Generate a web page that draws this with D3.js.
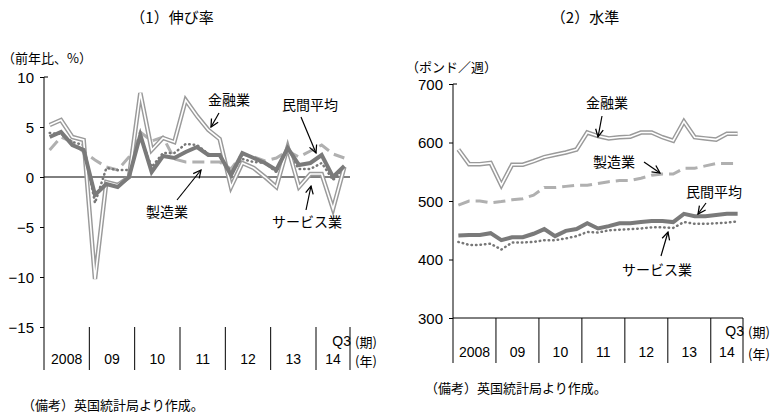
<!DOCTYPE html>
<html>
<head>
<meta charset="utf-8">
<script src="https://cdn.jsdelivr.net/npm/d3@7"></script>
<style>
  body { margin: 0; background: #fff; }
  svg { display: block; }
  text { font-family: "Noto Sans CJK JP", "Liberation Sans", sans-serif; fill: #000; }
  .num { font-family: "Liberation Sans", Arial, sans-serif; }
</style>
</head>
<body>
<div id="chart"></div>
<script>
// quarters 2008Q1 .. 2014Q3
const quarters = d3.range(27).map(i => (2008 + Math.floor(i / 4)) + 'Q' + (i % 4 + 1));
const yearLabels = ['2008', '09', '10', '11', '12', '13', '14'];

// (1) growth rate, % y/y
const growthFinance = [5.2, 5.7, 4.0, 3.7, -10.2, -0.5, -0.8, 0.0, 8.4, 2.7, 3.9, 3.5, 7.7, 6.1, 4.7, 3.8,
  -1.0, 1.4, 0.9, 0.0, -1.0, 3.0, -1.0, 0.3, 0.3, -3.2, 1.0];
const growthAverage = [4.0, 4.5, 3.2, 2.7, -1.8, -0.7, -1.0, 0.0, 4.2, 0.5, 2.1, 1.9, 2.5, 3.0, 2.2, 2.2,
  0.2, 2.4, 1.9, 1.4, 0.7, 2.9, 1.2, 1.4, 2.2, 0.0, 1.1];
const growthManufacturing = [2.7, 4.0, 3.5, 2.5, 1.7, 1.0, 0.7, 2.0, 4.5, 3.6, 4.0, 1.8, 1.5, 1.5, 1.5, 1.5,
  0.8, 2.3, 2.0, 1.6, 1.9, 2.6, 2.0, 2.6, 3.2, 2.3, 1.9];
const growthServices = [4.4, 4.3, 3.5, 3.2, -2.6, 0.9, 0.7, 0.7, 4.0, 1.0, 2.4, 2.4, 3.3, 3.2, 2.3, 2.2,
  0.5, 1.8, 1.5, 1.4, 0.5, 2.5, 0.8, 0.8, 1.4, -0.3, 0.8];

// (2) level, pounds per week
const levelFinance = [588, 563, 563, 565, 527, 562, 562, 568, 575, 579, 583, 588, 617, 611, 607, 609,
  610, 617, 617, 609, 603, 636, 609, 607, 605, 615, 615];
const levelManufacturing = [493, 500, 500, 497, 499, 502, 504, 510, 523, 523, 525, 527, 527, 530, 533, 535,
  535, 539, 544, 546, 546, 556, 556, 560, 564, 564, 564];
const levelAverage = [441, 442, 442, 445, 433, 438, 438, 444, 452, 440, 449, 452, 462, 453, 457, 462,
  462, 464, 466, 466, 464, 478, 474, 474, 476, 478, 478];
const levelServices = [430, 425, 425, 427, 417, 429, 429, 430, 433, 433, 436, 440, 447, 446, 450, 451,
  452, 453, 455, 455, 454, 464, 461, 461, 462, 463, 465];

const growthTicks = [10, 5, 0, -5, -10, -15];
const levelTicks = [700, 600, 500, 400, 300];

const W = 783, H = 417;
const svg = d3.select('#chart').append('svg').attr('width', W).attr('height', H);

function drawPanel(cfg) {
  const g = svg.append('g');
  const band = d3.scaleBand().domain(quarters).range([cfg.x0, cfg.x1]);
  const x = q => band(q) + band.bandwidth() / 2;
  const y = d3.scaleLinear().domain(cfg.domain).range([cfg.yBottom, cfg.yTop]);

  // title
  g.append('text').attr('x', cfg.titleX).attr('y', 23).attr('font-size', 15)
    .attr('text-anchor', 'middle').text(cfg.title);
  g.append('text').attr('x', cfg.unitX).attr('y', cfg.unitY).attr('font-size', 13).text(cfg.unit);

  // y axis
  const axis = d3.axisLeft(y).tickValues(cfg.ticks).tickSize(4).tickSizeOuter(0)
    .tickFormat(d => d < 0 ? '\u2212' + Math.abs(d) : d);
  const ag = g.append('g').attr('transform', `translate(${cfg.x0},0)`).call(axis);
  ag.select('.domain').remove();
  ag.selectAll('line').attr('stroke', '#000');
  ag.selectAll('text').attr('class', 'num').attr('font-size', 15).attr('x', -10).attr('dy', '0.35em');
  g.append('line').attr('x1', cfg.x0).attr('x2', cfg.x0)
    .attr('y1', cfg.yTop).attr('y2', cfg.catBottom).attr('stroke', '#000');
  g.append('line').attr('x1', cfg.x0).attr('x2', cfg.x0 + 4)
    .attr('y1', cfg.yTop).attr('y2', cfg.yTop).attr('stroke', '#000');

  // horizontal base line
  g.append('line').attr('x1', cfg.x0).attr('x2', cfg.x1)
    .attr('y1', y(cfg.baseValue)).attr('y2', y(cfg.baseValue)).attr('stroke', '#000');

  // category separators and year labels
  const years = d3.range(7).map(i => quarters[i * 4]);
  years.slice(1).forEach(q => {
    g.append('line').attr('x1', band(q)).attr('x2', band(q))
      .attr('y1', cfg.yBottom).attr('y2', cfg.catBottom).attr('stroke', '#000');
  });
  g.append('line').attr('x1', cfg.x1).attr('x2', cfg.x1)
    .attr('y1', cfg.yBottom).attr('y2', cfg.catBottom).attr('stroke', '#000');
  years.forEach((q, i) => {
    const a = band(q);
    const b = i < 6 ? band(years[i + 1]) : cfg.x1;
    g.append('text').attr('class', 'num').attr('x', (a + b) / 2).attr('y', cfg.catBottom - 6)
      .attr('font-size', 14).attr('text-anchor', 'middle').text(yearLabels[i]);
  });
  g.append('text').attr('class', 'num').attr('x', cfg.x1 + 1).attr('y', cfg.q3Y)
    .attr('font-size', 14).attr('text-anchor', 'end').text('Q3');
  g.append('text').attr('x', cfg.x1 + 5).attr('y', cfg.q3Y + 1).attr('font-size', 13).text('(期)');
  g.append('text').attr('x', cfg.x1 + 5).attr('y', cfg.catBottom - 4).attr('font-size', 13).text('(年)');

  const line = d3.line().x((d, i) => x(quarters[i])).y(d => y(d));

  // manufacturing: light dashed
  g.append('path').datum(cfg.manufacturing).attr('d', line).attr('fill', 'none')
    .attr('stroke', '#b0b0b0').attr('stroke-width', 3).attr('stroke-dasharray', '12,6');
  // services: dotted
  g.append('path').datum(cfg.services).attr('d', line).attr('fill', 'none')
    .attr('stroke', '#777').attr('stroke-width', 2.5).attr('stroke-linecap', 'round')
    .attr('stroke-dasharray', '0.5,4');
  // finance: double line
  g.append('path').datum(cfg.finance).attr('d', line).attr('fill', 'none')
    .attr('stroke', '#9a9a9a').attr('stroke-width', 4.5);
  g.append('path').datum(cfg.finance).attr('d', line).attr('fill', 'none')
    .attr('stroke', '#fff').attr('stroke-width', 1.6);
  // private average: thick
  g.append('path').datum(cfg.average).attr('d', line).attr('fill', 'none')
    .attr('stroke', '#7a7a7a').attr('stroke-width', 4);

  // annotations
  cfg.notes.forEach(n => {
    g.append('text').attr('x', n.tx).attr('y', n.ty).attr('font-size', 14)
      .attr('text-anchor', 'middle').text(n.label);
    g.append('line').attr('x1', n.ax1).attr('y1', n.ay1).attr('x2', n.ax2).attr('y2', n.ay2)
      .attr('stroke', '#000').attr('stroke-width', 1.2).attr('marker-end', 'url(#arrow)');
  });

  g.append('text').attr('x', cfg.noteX).attr('y', cfg.noteY).attr('font-size', 13)
    .text('（備考）英国統計局より作成。');
}

svg.append('defs').append('marker').attr('id', 'arrow')
  .attr('viewBox', '0 0 10 10').attr('refX', 9).attr('refY', 5)
  .attr('markerWidth', 8).attr('markerHeight', 8).attr('orient', 'auto')
  .append('path').attr('d', 'M1,1L9,5L1,9').attr('fill', 'none').attr('stroke', '#000').attr('stroke-width', 1.3);

drawPanel({
  title: '（1）伸び率', titleX: 172, unit: '（前年比、%）', unitX: 2, unitY: 63,
  x0: 44, x1: 350, yTop: 77, yBottom: 327, catBottom: 370, domain: [-15, 10], ticks: growthTicks,
  baseValue: 0, q3Y: 346,
  finance: growthFinance, average: growthAverage, manufacturing: growthManufacturing, services: growthServices,
  notes: [
    { label: '金融業', tx: 229, ty: 105, ax1: 219, ay1: 113, ax2: 211, ay2: 127 },
    { label: '民間平均', tx: 310, ty: 110, ax1: 301, ay1: 117, ax2: 316, ay2: 153 },
    { label: '製造業', tx: 167, ty: 217, ax1: 177, ay1: 200, ax2: 201, ay2: 170 },
    { label: 'サービス業', tx: 307, ty: 227, ax1: 306, ay1: 210, ax2: 311, ay2: 186 }
  ],
  noteX: 22, noteY: 410
});

drawPanel({
  title: '（2）水準', titleX: 585, unit: '（ポンド／週）', unitX: 406, unitY: 72,
  x0: 453, x1: 743, yTop: 84, yBottom: 318, catBottom: 363, domain: [300, 700], ticks: levelTicks,
  baseValue: 300, q3Y: 336,
  finance: levelFinance, average: levelAverage, manufacturing: levelManufacturing, services: levelServices,
  notes: [
    { label: '金融業', tx: 607, ty: 108, ax1: 602, ay1: 116, ax2: 598, ay2: 137 },
    { label: '製造業', tx: 614, ty: 167, ax1: 644, ay1: 162, ax2: 660, ay2: 173 },
    { label: '民間平均', tx: 714, ty: 197, ax1: 706, ay1: 203, ax2: 698, ay2: 214 },
    { label: 'サービス業', tx: 657, ty: 275, ax1: 661, ay1: 256, ax2: 668, ay2: 232 }
  ],
  noteX: 425, noteY: 393
});
</script>
</body>
</html>
